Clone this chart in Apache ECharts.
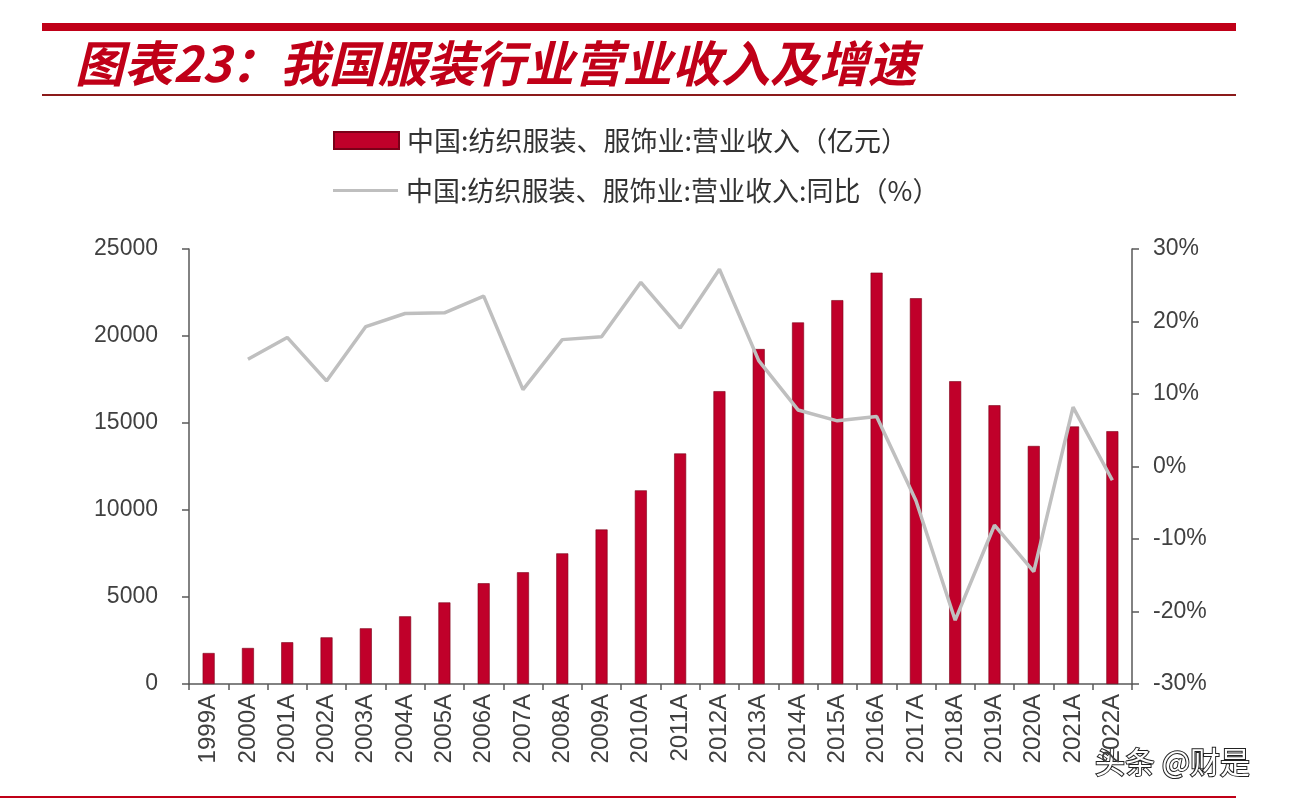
<!DOCTYPE html>
<html><head><meta charset="utf-8">
<script src="https://cdn.jsdelivr.net/npm/echarts@6/dist/echarts.min.js"></script>
<style>html,body{margin:0;padding:0;background:#fff}#c{width:1290px;height:804px}</style>
</head><body><div id="c"></div>
<script>
const categories = ['1999A','2000A','2001A','2002A','2003A','2004A','2005A','2006A','2007A','2008A','2009A','2010A','2011A','2012A','2013A','2014A','2015A','2016A','2017A','2018A','2019A','2020A','2021A','2022A'];
const revenue = [1780,2070,2400,2680,3200,3890,4690,5790,6420,7510,8880,11130,13250,16830,19250,20780,22060,23640,22170,17400,16020,13680,14800,14530];
const yoy = [null,14.8,17.8,11.8,19.3,21.1,21.2,23.5,10.6,17.5,17.9,25.4,19.1,27.2,14.6,7.8,6.3,6.9,-4.7,-21.2,-8.1,-14.5,8.2,-1.9];
const leftTicks = [0,5000,10000,15000,20000,25000];
const rightTicks = [-30,-20,-10,0,10,20,30];
const titleText = '图表23：我国服装行业营业收入及增速';
const barName = '中国:纺织服装、服饰业:营业收入（亿元）';
const lineName = '中国:纺织服装、服饰业:营业收入:同比（%）';

const chart = echarts.init(document.getElementById('c'));
const axisColor = '#595959';
const labelFont = {fontSize: 23, color: '#404040', fontFamily: 'Liberation Sans'};
const legendText = {fontSize: 27, color: '#333', fontFamily: 'Noto Sans CJK SC', padding: [0,0,0,3]};
chart.setOption({
  backgroundColor: '#fff',
  animation: false,
  title: {
    text: titleText, left: 70, top: 34,
    textStyle: {color: '#C00018', fontSize: 49, fontStyle: 'italic', fontWeight: 'bold', fontFamily: 'Noto Sans CJK SC'}
  },
  graphic: [
    {type: 'rect', shape: {x: 42, y: 23, width: 1194, height: 8}, style: {fill: '#C00018'}},
    {type: 'rect', shape: {x: 42, y: 94, width: 1194, height: 2}, style: {fill: '#8B1A1A'}},
    {type: 'rect', shape: {x: 0, y: 796, width: 1236, height: 2}, style: {fill: '#C00018'}},
    {type: 'text', left: 1094, top: 746, style: {text: '头条 @财是', fontSize: 30, fill: '#fff', stroke: '#222', lineWidth: 2, fontFamily: 'Noto Sans CJK SC'}}
  ],
  legend: [
    {orient: 'vertical', left: 333, top: 127, padding: 0, itemWidth: 65, itemHeight: 17,
     textStyle: legendText,
     data: [{name: barName, icon: 'rect'}]},
    {orient: 'vertical', left: 333, top: 177, padding: 0, itemWidth: 65, itemHeight: 3,
     textStyle: legendText,
     data: [{name: lineName, icon: 'rect', itemStyle: {color: '#BFBFBF'}}]}
  ],
  grid: {left: 189, right: 158, top: 249, bottom: 120, containLabel: false},
  xAxis: {
    type: 'category', data: categories, boundaryGap: true,
    axisLine: {lineStyle: {color: axisColor, width: 1.5}},
    axisTick: {show: true, alignWithLabel: false, length: 6, lineStyle: {color: axisColor, width: 1.5}},
    axisLabel: Object.assign({rotate: 90, margin: 10, interval: 0}, labelFont, {fontSize: 24})
  },
  yAxis: [
    {type: 'value', min: 0, max: 25000, interval: 5000, position: 'left',
     axisLine: {show: true, lineStyle: {color: axisColor, width: 1.5}},
     axisTick: {show: true, length: 7, lineStyle: {color: axisColor, width: 1.5}},
     splitLine: {show: false},
     axisLabel: Object.assign({margin: 31, formatter: v => String(v)}, labelFont)},
    {type: 'value', min: -30, max: 30, interval: 10, position: 'right',
     axisLine: {show: true, lineStyle: {color: axisColor, width: 1.5}},
     axisTick: {show: true, length: 7, lineStyle: {color: axisColor, width: 1.5}},
     splitLine: {show: false},
     axisLabel: Object.assign({margin: 21, formatter: '{value}%'}, labelFont)}
  ],
  series: [
    {name: barName, type: 'bar', data: revenue, barWidth: 12, yAxisIndex: 0,
     itemStyle: {color: '#C0002A', borderColor: '#7a0018', borderWidth: 0.6}},
    {name: lineName, type: 'line', data: yoy, yAxisIndex: 1, symbol: 'none', connectNulls: false,
     lineStyle: {color: '#BFBFBF', width: 3.5}, itemStyle: {color: '#BFBFBF'}}
  ]
});
</script></body></html>
